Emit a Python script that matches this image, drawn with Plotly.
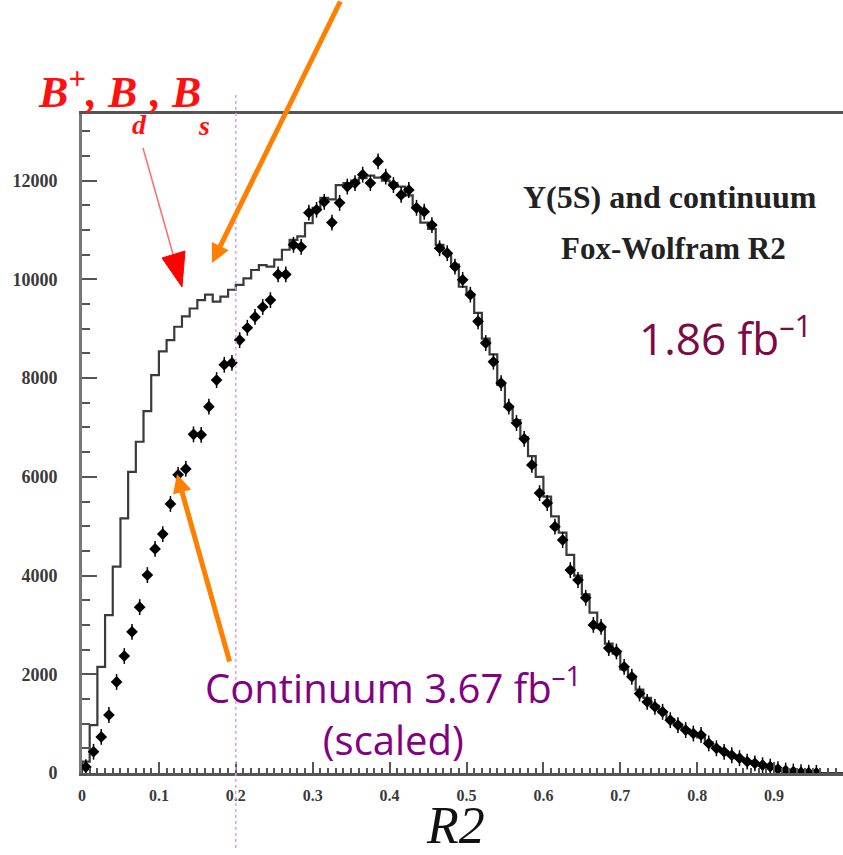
import numpy as np
import plotly.graph_objects as go

# R2 bins of width 0.01 from 0 to 1 (values listed for bin centres 0.005 ... 0.995)
bin_width = 0.01

# Continuum sample (3.67 fb^-1, scaled), events per bin
continuum = [
    120, 430, 730, 1175, 1845, 2370, 2860, 3360, 4010, 4540,
    4840, 5450, 6040, 6160, 6860, 6850, 7420, 7960, 8270, 8310,
    8770, 9020, 9240, 9440, 9580, 10100, 10100, 10700, 10660, 11350,
    11410, 11570, 11150, 11550, 11880, 11950, 12120, 11950, 12390, 12080,
    11910, 11710, 11810, 11450, 11370, 11100, 10630, 10530, 10260, 9990,
    9690, 9150, 8710, 8330, 7900, 7420, 7090, 6770, 6240, 5670,
    5470, 4990, 4720, 4110, 3910, 3550, 3000, 2960, 2530, 2460,
    2150, 1950, 1610, 1440, 1340, 1240, 1070, 970, 870, 800,
    770, 600, 500, 430, 360, 300, 230, 195, 160, 130,
    80, 50, 30, 15, 6, 2, 0, 0, 0, 0,
]

# Y(5S) sample (1.86 fb^-1), events per bin
y5s = [
    230, 970, 2150, 3200, 4180, 5160, 6100, 6710, 7330, 8060,
    8540, 8770, 9040, 9250, 9410, 9580, 9690, 9550, 9650, 9790,
    9890, 10020, 10190, 10290, 10260, 10400, 10600, 10800, 10870, 11140,
    11450, 11650, 11620, 11910, 11950, 12000, 12050, 12100, 12060, 12000,
    11950, 11880, 11700, 11450, 11150, 11020, 10700, 10530, 10300, 9850,
    9700, 9320, 8800, 8480, 7860, 7420, 7150, 6800, 6420, 6000,
    5600, 5200, 4870, 4420, 4000, 3620, 3250, 2940, 2620, 2420,
    2100, 1950, 1690, 1520, 1360, 1230, 1090, 980, 880, 800,
    720, 620, 520, 440, 360, 300, 240, 190, 150, 110,
    75, 50, 30, 15, 6, 2, 0, 0, 0, 0,
]

x_tick_vals = [0, 0.1, 0.2, 0.3, 0.4, 0.5, 0.6, 0.7, 0.8, 0.9]
x_tick_text = ["0", "0.1", "0.2", "0.3", "0.4", "0.5", "0.6", "0.7", "0.8", "0.9"]
y_tick_vals = [0, 2000, 4000, 6000, 8000, 10000, 12000]
y_tick_text = ["0", "2000", "4000", "6000", "8000", "10000", "12000"]

n_bins = len(y5s)
edges = np.arange(n_bins + 1) * bin_width
centres = edges[:-1] + bin_width / 2

# Page geometry (pixels) used to place decorations in paper coordinates
L, R, T, B = 82, 0, 114, 82
FIG_W, FIG_H = 843, 855
PW = FIG_W - L - R
PH = FIG_H - T - B


def px(x):
    return (x - L) / PW


def py(y):
    return (FIG_H - B - y) / PH


fig = go.Figure()

# Y(5S) histogram drawn as a step line
hist_x = np.concatenate([[edges[0]], edges])
hist_y = np.concatenate([[0], y5s, [y5s[-1]]])
fig.add_trace(go.Scatter(
    x=hist_x, y=hist_y, mode="lines",
    line=dict(color="#3a3a3a", width=2.2, shape="hv"),
    hoverinfo="skip", showlegend=False,
))

# Continuum points (empty bins are not drawn)
cont_pts = [v if v > 0 else None for v in continuum]
fig.add_trace(go.Scatter(
    x=centres, y=cont_pts, mode="markers",
    marker=dict(symbol="diamond", size=9, color="black"),
    error_y=dict(type="constant", value=160, thickness=1.5, width=0, color="black"),
    showlegend=False,
))

# Dotted marker line at R2 = 0.2
fig.add_shape(type="line", xref="x", yref="paper", x0=0.2, x1=0.2,
              y0=py(848), y1=py(95),
              line=dict(color="#d9a0f0", width=1.5, dash="dot"))

# Red pointer with a filled triangular head
fig.add_shape(type="line", xref="paper", yref="paper",
              x0=px(143), y0=py(148), x1=px(173), y1=py(254),
              line=dict(color="#ff6a6a", width=1.5))
fig.add_shape(type="path", xref="paper", yref="paper",
              path=f"M {px(162)},{py(258)} L {px(185)},{py(251)} L {px(182)},{py(287)} Z",
              fillcolor="#ff0000", line=dict(color="#ff0000", width=1))

annotations = []

# Orange arrows
annotations.append(dict(
    x=px(212), y=py(263), xref="paper", yref="paper", text="",
    showarrow=True, arrowhead=2, arrowsize=0.75, arrowwidth=5,
    arrowcolor="#ff8000", ax=129, ay=-265,
))
annotations.append(dict(
    x=px(177), y=py(474), xref="paper", yref="paper", text="",
    showarrow=True, arrowhead=2, arrowsize=0.75, arrowwidth=5,
    arrowcolor="#ff8000", ax=53, ay=189,
))

# B+, Bd, Bs label with low-set subscripts
red_font = dict(family="Liberation Serif", size=44, color="#ff1010")
red_sub = dict(family="Liberation Serif", size=28, color="#ff1010")
annotations.append(dict(
    x=px(36), y=py(119), xref="paper", yref="paper", xanchor="left", yanchor="bottom",
    text="<b><i>B<sup>+</sup>, B</i></b>", showarrow=False, font=red_font,
))
annotations.append(dict(
    x=px(147), y=py(119), xref="paper", yref="paper", xanchor="left", yanchor="bottom",
    text="<b><i>, B</i></b>", showarrow=False, font=red_font,
))
annotations.append(dict(
    x=px(139), y=py(125), xref="paper", yref="paper", xanchor="center", yanchor="middle",
    text="<b><i>d</i></b>", showarrow=False, font=red_sub,
))
annotations.append(dict(
    x=px(204), y=py(126), xref="paper", yref="paper", xanchor="center", yanchor="middle",
    text="<b><i>s</i></b>", showarrow=False, font=red_sub,
))

annotations.append(dict(
    x=px(670), y=py(197), xref="paper", yref="paper", xanchor="center", yanchor="middle",
    text="<b>Y(5S) and continuum</b>", showarrow=False,
    font=dict(family="Liberation Serif", size=32, color="#222222"),
))
annotations.append(dict(
    x=px(673), y=py(248), xref="paper", yref="paper", xanchor="center", yanchor="middle",
    text="<b>Fox-Wolfram R2</b>", showarrow=False,
    font=dict(family="Liberation Serif", size=31, color="#222222"),
))
annotations.append(dict(
    x=px(725), y=py(336), xref="paper", yref="paper", xanchor="center", yanchor="middle",
    text="1.86 fb<sup>–1</sup>", showarrow=False,
    font=dict(family="Open Sans", size=44, color="#7d0a47"),
))
annotations.append(dict(
    x=px(393), y=py(711), xref="paper", yref="paper", xanchor="center", yanchor="middle",
    text="Continuum 3.67 fb<sup>–1</sup><br>(scaled)", showarrow=False,
    font=dict(family="Open Sans", size=40, color="#820082"),
))
annotations.append(dict(
    x=px(455), y=py(826), xref="paper", yref="paper", xanchor="center", yanchor="middle",
    text="<i>R2</i>", showarrow=False,
    font=dict(family="Liberation Serif", size=52, color="#111111"),
))

fig.update_layout(
    width=FIG_W, height=FIG_H,
    margin=dict(l=L, r=R, t=T, b=B),
    paper_bgcolor="white", plot_bgcolor="white",
    annotations=annotations,
    showlegend=False,
)

fig.update_xaxes(
    range=[0, PW / 769 * 1.0], showgrid=False, zeroline=False,
    showline=True, linecolor="#555555", linewidth=3, mirror=True,
    ticks="inside", ticklen=11, tickwidth=2, tickcolor="#555555",
    tickvals=x_tick_vals, ticktext=x_tick_text,
    minor=dict(dtick=0.01, ticks="inside", ticklen=5, tickwidth=1.5, tickcolor="#555555"),
    tickfont=dict(family="Liberation Serif", size=16, color="#3a3a3a", weight="bold"),
    ticklabelstandoff=6,
)
fig.update_yaxes(
    range=[0, 13350], showgrid=False, zeroline=False,
    showline=True, linecolor="#777777", linewidth=3,
    ticks="inside", ticklen=15, tickwidth=2, tickcolor="#555555",
    tickvals=y_tick_vals, ticktext=y_tick_text,
    minor=dict(dtick=500, ticks="inside", ticklen=8, tickwidth=2, tickcolor="#555555"),
    tickfont=dict(family="Liberation Serif", size=18, color="#3a3a3a", weight="bold"),
    ticklabelstandoff=18,
)

fig.write_html("out.html")
